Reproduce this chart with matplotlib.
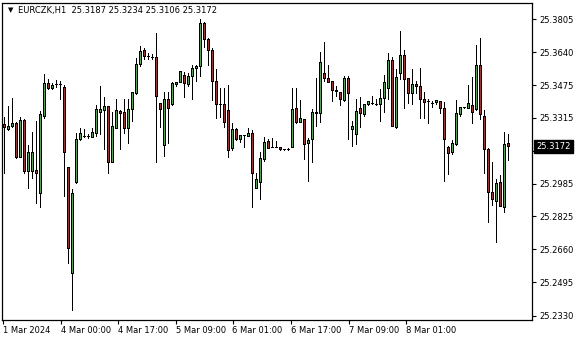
import matplotlib
matplotlib.use("Agg")
import matplotlib.pyplot as plt
import matplotlib.transforms as mtransforms
import numpy as np

opens = [25.3283, 25.3260, 25.3273, 25.3287, 25.3120, 25.3303, 25.3051, 25.3051, 25.3054, 25.2942,
         25.3323, 25.3486, 25.3464, 25.3482, 25.3480, 25.3466, 25.3068, 25.2540, 25.2996, 25.3207,
         25.3225, 25.3222, 25.3220, 25.3237, 25.3344, 25.3351, 25.3371, 25.3096, 25.3262, 25.3348,
         25.3341, 25.3262, 25.3356, 25.3436, 25.3580, 25.3651, 25.3621, 25.3618, 25.3618, 25.3386,
         25.3177, 25.3405, 25.3381, 25.3482, 25.3491, 25.3527, 25.3484, 25.3523, 25.3563, 25.3574,
         25.3784, 25.3708, 25.3651, 25.3499, 25.3381, 25.3385, 25.3353, 25.3162, 25.3258, 25.3208,
         25.3227, 25.3225, 25.3237, 25.2966, 25.2996, 25.3109, 25.3199, 25.3169, 25.3169, 25.3167,
         25.3157, 25.3157, 25.3170, 25.3361, 25.3292, 25.3307, 25.3187, 25.3207, 25.3338, 25.3336,
         25.3535, 25.3510, 25.3497, 25.3452, 25.3441, 25.3403, 25.3510, 25.3260, 25.3232, 25.3361,
         25.3331, 25.3381, 25.3389, 25.3381, 25.3381, 25.3411, 25.3461, 25.3602, 25.3270, 25.3535,
         25.3626, 25.3510, 25.3436, 25.3481, 25.3474, 25.3406, 25.3399, 25.3389, 25.3391, 25.3398,
         25.3361, 25.3170, 25.3142, 25.3182, 25.3331, 25.3366, 25.3365, 25.3378, 25.3356, 25.3577,
         25.3325, 25.3157, 25.2946, 25.2902, 25.2993, 25.2872, 25.3187]
highs = [25.3319, 25.3373, 25.3411, 25.3293, 25.3318, 25.3308, 25.3179, 25.3243, 25.3298, 25.3350,
         25.3532, 25.3505, 25.3486, 25.3502, 25.3499, 25.3477, 25.3069, 25.2960, 25.3237, 25.3263,
         25.3258, 25.3231, 25.3263, 25.3378, 25.3472, 25.3416, 25.3373, 25.3343, 25.3406, 25.3353,
         25.3406, 25.3406, 25.3442, 25.3610, 25.3670, 25.3660, 25.3634, 25.3630, 25.3737, 25.3388,
         25.3442, 25.3442, 25.3490, 25.3491, 25.3548, 25.3543, 25.3535, 25.3579, 25.3577, 25.3806,
         25.3792, 25.3709, 25.3663, 25.3557, 25.3461, 25.3461, 25.3477, 25.3287, 25.3262, 25.3228,
         25.3228, 25.3262, 25.3253, 25.3038, 25.3144, 25.3216, 25.3206, 25.3212, 25.3199, 25.3169,
         25.3161, 25.3162, 25.3460, 25.3461, 25.3403, 25.3308, 25.3215, 25.3358, 25.3510, 25.3640,
         25.3690, 25.3577, 25.3499, 25.3472, 25.3442, 25.3522, 25.3522, 25.3298, 25.3408, 25.3416,
         25.3383, 25.3398, 25.3422, 25.3405, 25.3457, 25.3527, 25.3635, 25.3615, 25.3557, 25.3746,
         25.3651, 25.3513, 25.3555, 25.3497, 25.3560, 25.3441, 25.3406, 25.3399, 25.3403, 25.3398,
         25.3391, 25.3175, 25.3204, 25.3403, 25.3368, 25.3368, 25.3477, 25.3518, 25.3676, 25.3709,
         25.3353, 25.3164, 25.3093, 25.3010, 25.3029, 25.3242, 25.3234]
lows = [25.3039, 25.3253, 25.3268, 25.3114, 25.3119, 25.3039, 25.2967, 25.3014, 25.2889, 25.2872,
        25.3313, 25.3456, 25.3456, 25.3465, 25.3406, 25.2926, 25.2590, 25.2358, 25.2991, 25.3204,
        25.3218, 25.3215, 25.3217, 25.3223, 25.3233, 25.3157, 25.3041, 25.3094, 25.3261, 25.3160,
        25.3238, 25.3190, 25.3300, 25.3431, 25.3572, 25.3605, 25.3607, 25.3607, 25.3096, 25.3267,
        25.3125, 25.3187, 25.3380, 25.3471, 25.3490, 25.3417, 25.3472, 25.3406, 25.3496, 25.3522,
        25.3666, 25.3577, 25.3401, 25.3311, 25.3319, 25.3268, 25.3120, 25.3152, 25.3204, 25.3195,
        25.3170, 25.3223, 25.2872, 25.2965, 25.2910, 25.3101, 25.3165, 25.3169, 25.3169, 25.3156,
        25.3156, 25.3156, 25.3170, 25.3290, 25.3291, 25.3111, 25.3001, 25.3096, 25.3275, 25.3295,
        25.3499, 25.3490, 25.3399, 25.3424, 25.3378, 25.3399, 25.3210, 25.3175, 25.3185, 25.3270,
        25.3323, 25.3380, 25.3381, 25.3380, 25.3300, 25.3344, 25.3408, 25.3272, 25.3262, 25.3505,
        25.3361, 25.3389, 25.3381, 25.3436, 25.3312, 25.3312, 25.3287, 25.3366, 25.3383, 25.3336,
        25.3001, 25.3033, 25.3132, 25.3181, 25.3324, 25.3364, 25.3361, 25.3287, 25.3355, 25.3307,
        25.3038, 25.2797, 25.2880, 25.2698, 25.2877, 25.2844, 25.3106]
closes = [25.3268, 25.3273, 25.3287, 25.3117, 25.3303, 25.3051, 25.3142, 25.3142, 25.3041, 25.3331,
          25.3487, 25.3462, 25.3477, 25.3482, 25.3480, 25.3142, 25.2665, 25.2938, 25.3207, 25.3238,
          25.3225, 25.3222, 25.3242, 25.3356, 25.3358, 25.3371, 25.3096, 25.3272, 25.3351, 25.3336,
          25.3262, 25.3358, 25.3440, 25.3580, 25.3645, 25.3621, 25.3621, 25.3618, 25.3424, 25.3356,
          25.3406, 25.3361, 25.3489, 25.3490, 25.3547, 25.3489, 25.3524, 25.3560, 25.3574, 25.3784,
          25.3705, 25.3650, 25.3499, 25.3381, 25.3381, 25.3295, 25.3156, 25.3258, 25.3207, 25.3227,
          25.3227, 25.3238, 25.3038, 25.3008, 25.3112, 25.3192, 25.3165, 25.3169, 25.3169, 25.3157,
          25.3157, 25.3157, 25.3356, 25.3295, 25.3312, 25.3182, 25.3204, 25.3341, 25.3343, 25.3590,
          25.3510, 25.3494, 25.3452, 25.3446, 25.3406, 25.3510, 25.3436, 25.3273, 25.3348, 25.3339,
          25.3381, 25.3396, 25.3389, 25.3381, 25.3411, 25.3491, 25.3602, 25.3275, 25.3515, 25.3626,
          25.3505, 25.3436, 25.3481, 25.3472, 25.3406, 25.3394, 25.3399, 25.3389, 25.3403, 25.3361,
          25.3207, 25.3137, 25.3187, 25.3336, 25.3366, 25.3366, 25.3390, 25.3344, 25.3577, 25.3331,
          25.3157, 25.2946, 25.2909, 25.2988, 25.2877, 25.3182, 25.3172]

y_ticks = [25.3805, 25.3640, 25.3475, 25.3315, 25.3150, 25.2985, 25.2825, 25.2660, 25.2495, 25.2330]
y_tick_labels = ["25.3805", "25.3640", "25.3475", "25.3315", "25.3150", "25.2985",
                 "25.2825", "25.2660", "25.2495", "25.2330"]
x_tick_labels = ["1 Mar 2024", "4 Mar 00:00", "4 Mar 17:00", "5 Mar 09:00",
                 "6 Mar 01:00", "6 Mar 17:00", "7 Mar 09:00", "8 Mar 01:00"]
x_tick_bars = [-0.15, 14.35, 28.6, 43.1, 57.25, 71.85, 86.35, 100.6]
symbol = "EURCZK,H1"
last_price = 25.3172

FONT = "DejaVu Sans"
FS = 6.0
BULL = "#2fbf2f"
BEAR = "#e01818"
PX = 0.72  # one pixel in points at 100 dpi

fig = plt.figure(figsize=(5.8, 3.4), dpi=100)
W, H = 580, 340
ax = fig.add_axes([2 / W, (H - 320) / H, 530 / W, 317 / H])

o = np.array(opens); h = np.array(highs); l = np.array(lows); c = np.array(closes)
x = np.arange(len(o))
ax.vlines(x, l, h, color="black", linewidth=PX, zorder=2, antialiased=False)
colors = np.where(c >= o, BULL, BEAR)
ax.bar(x, c - o, bottom=o, width=0.5, color=colors, edgecolor="black",
       linewidth=PX, zorder=3, antialiased=False)

# 4 px per bar, bar centres on pixel centres
ax.set_xlim(-0.375, -0.375 + 530 / 4)
ax.set_ylim(25.2308, 25.3885)

for s in ax.spines.values():
    s.set_color("black")
    s.set_linewidth(0.9)

ax.yaxis.tick_right()
ax.set_yticks(y_ticks)
ax.set_yticklabels(y_tick_labels, fontsize=FS, family=FONT)
ax.tick_params(axis="y", direction="out", length=3, width=0.8, pad=2.5, colors="black")
ax.set_xticks(x_tick_bars)
ax.set_xticklabels(x_tick_labels, fontsize=FS, family=FONT)
ax.tick_params(axis="x", direction="out", length=3, width=0.8, pad=1.5, colors="black")
for t in ax.get_xticklabels():
    t.set_ha("left")

# current price label
trans = mtransforms.blended_transform_factory(ax.transAxes, ax.transData)
ax.text(1.008, last_price, f"{last_price:.4f}", transform=trans, fontsize=FS, family=FONT,
        color="white", va="center", ha="left", clip_on=False, zorder=10,
        bbox=dict(boxstyle="square,pad=0.25", facecolor="black", edgecolor="black"))

# header
ax.text(6 / 530, 1 - 7 / 317, "\u25bc", transform=ax.transAxes, fontsize=5, family=FONT,
        color="black", va="center", ha="left")
ax.text(16 / 530, 1 - 7 / 317,
        f"{symbol}  {opens[-1]:.4f} {highs[-1]:.4f} {lows[-1]:.4f} {closes[-1]:.4f}",
        transform=ax.transAxes, fontsize=FS, family=FONT, color="black", va="center", ha="left")

fig.savefig("out.png", dpi=100, facecolor="white")
